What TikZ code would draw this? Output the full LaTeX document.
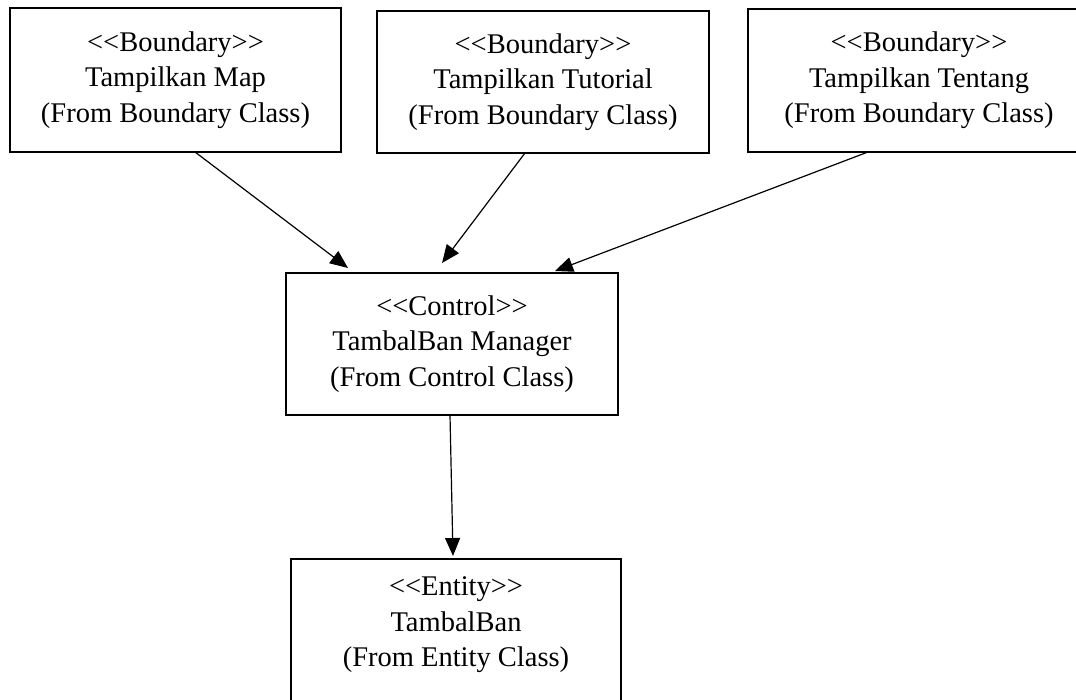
\documentclass[tikz,border=0pt]{standalone}
\usepackage{fontspec}
\setmainfont{Liberation Serif}
\usetikzlibrary{arrows.meta}

% stereotype guillemets written as plain angle brackets
\newcommand\stereo[1]{<\kern0pt<#1>\kern0pt>}

\tikzset{
  classbox/.style={draw=black, line width=2.6pt, fill=white, outer sep=0pt,
    align=center, font=\fontsize{28.5}{35.5}\selectfont},
  classtext/.style={align=center, font=\fontsize{28.5}{35.5}\selectfont, inner sep=0pt},
  dep/.style={line width=1.2pt, -{Triangle[length=18pt,width=15pt]}}
}

\begin{document}
\begin{tikzpicture}[x=1pt, y=-1pt]
  \useasboundingbox (0,0) rectangle (1076,700);

  % boundary classes
  \node[classbox, minimum width=331pt, minimum height=144pt] (map) at (175.5,80)
    {\stereo{Boundary}\\Tampilkan Map\\(From Boundary Class)};
  \node[classbox, minimum width=332pt, minimum height=142pt] (tut) at (543,82)
    {\stereo{Boundary}\\Tampilkan Tutorial\\(From Boundary Class)};
  \node[classbox, minimum width=342pt, minimum height=143pt] (ten) at (919,80.5)
    {\stereo{Boundary}\\Tampilkan Tentang\\(From Boundary Class)};

  % control class
  \node[classbox, minimum width=332pt, minimum height=142pt] (ctl) at (452,344)
    {\stereo{Control}\\TambalBan Manager\\(From Control Class)};

  % entity class
  \node[classbox, minimum width=330pt, minimum height=201pt] (ent) at (456,659.5) {};
  \node[classtext] (entlbl) at (456,625)
    {\stereo{Entity}\\TambalBan\\(From Entity Class)};

  % dependencies
  \draw[dep] ([xshift=19.5pt]map.south) -- ([xshift=-104pt, yshift=5pt]ctl.north);
  \draw[dep] ([xshift=-18pt]tut.south) -- ([xshift=-10pt, yshift=10pt]ctl.north);
  \draw[dep] ([xshift=-51pt]ten.south) -- ([xshift=103pt, yshift=2pt]ctl.north);
  \draw[dep] ([xshift=-2pt]ctl.south) -- ([xshift=-3pt, yshift=3pt]ent.north);
\end{tikzpicture}
\end{document}
